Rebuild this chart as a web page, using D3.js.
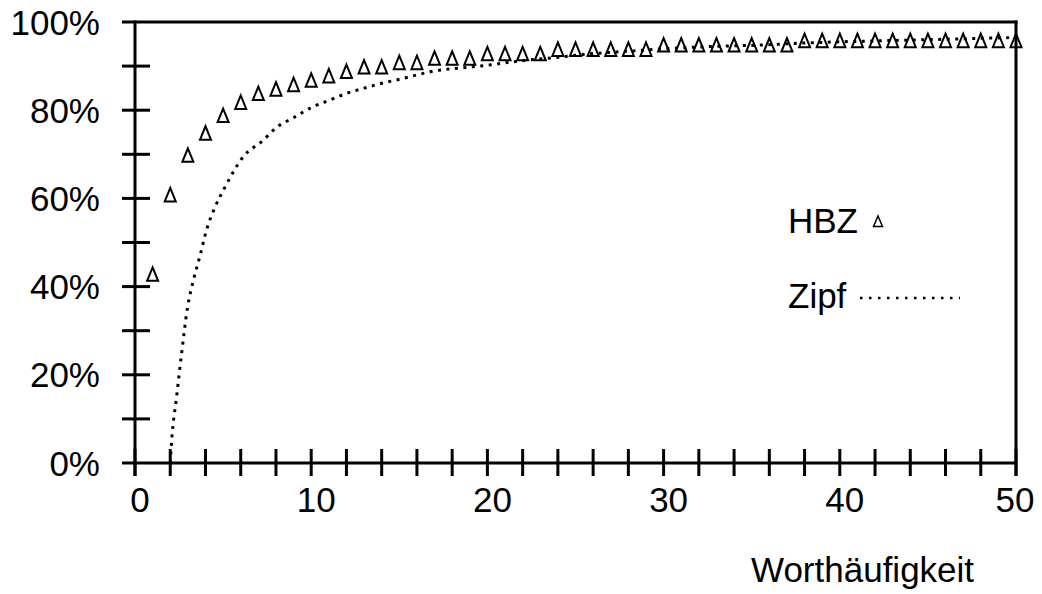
<!DOCTYPE html>
<html>
<head>
<meta charset="utf-8">
<script src="https://cdn.jsdelivr.net/npm/d3@7"></script>
<style>
  body { margin: 0; background: #fff; }
  svg { display: block; }
  text { font-family: "Liberation Sans", Arial, sans-serif; font-size: 35px; fill: #000; }
</style>
</head>
<body>
<div id="chart"></div>
<script>
// HBZ: cumulative share per word frequency rank
const hbzRank = d3.range(1, 51);
const hbzShare = [43, 61, 70, 75, 79, 82, 84, 85, 86, 87,
                  88, 89, 90, 90, 91, 91, 92, 92, 92, 93,
                  93, 93, 93, 94, 94, 94, 94, 94, 94, 95,
                  95, 95, 95, 95, 95, 95, 95, 96, 96, 96,
                  96, 96, 96, 96, 96, 96, 96, 96, 96, 96];

// Zipf curve, sampled from the dotted line
const zipfRank = [2.0, 2.08, 2.36, 2.65, 2.97, 3.35, 3.69, 4.07, 4.54, 5.1,
                  6.15, 7.28, 8, 9, 10, 11, 12, 13, 14, 15,
                  16, 17, 18.6, 20, 21.5, 22.6, 24, 25.6, 27.7, 29.6,
                  32.4, 35.7, 37.7, 40, 45, 50];
const zipfShare = [0, 5, 15, 25, 35, 42, 47, 53, 58, 62.5,
                   69.5, 73.2, 76, 78.3, 80.6, 82.2, 83.8, 85, 86.1, 87,
                   88, 88.9, 89.6, 90.2, 91, 91.5, 92, 92.7, 93.3, 93.8,
                   94.4, 94.8, 95.2, 95.5, 96, 96.5];

const yTicks = d3.range(0, 101, 10);
const yLabels = [0, 20, 40, 60, 80, 100];
const xTicks = d3.range(0, 51, 2);
const xLabels = [0, 10, 20, 30, 40, 50];

const width = 1042, height = 594;
const x = d3.scaleLinear().domain([0, 50]).range([135, 1016]);
const y = d3.scaleLinear().domain([0, 100]).range([463, 22]);

const svg = d3.select("#chart").append("svg")
    .attr("width", width)
    .attr("height", height);

const axes = svg.append("g")
    .attr("stroke", "#000")
    .attr("stroke-width", 3)
    .attr("fill", "none");

// y ticks (both sides of the left axis)
axes.selectAll(".ytick")
    .data(yTicks)
    .join("line")
    .attr("x1", x(0) - 13)
    .attr("x2", d => d === 100 ? x(50) + 1.5 : (d === 0 ? x(50) : x(0) + 15))
    .attr("y1", d => y(d))
    .attr("y2", d => y(d));

// x ticks
axes.selectAll(".xtick")
    .data(xTicks)
    .join("line")
    .attr("x1", d => x(d))
    .attr("x2", d => x(d))
    .attr("y1", y(0) - 14)
    .attr("y2", y(0) + 13);

// left and right frame lines
axes.append("line")
    .attr("x1", x(0)).attr("x2", x(0))
    .attr("y1", y(100) - 1.5).attr("y2", y(0) + 13);
axes.append("line")
    .attr("x1", x(50)).attr("x2", x(50))
    .attr("y1", y(100) - 1.5).attr("y2", y(0) + 13);

// tick labels
svg.selectAll(".ylabel")
    .data(yLabels)
    .join("text")
    .attr("x", 100)
    .attr("y", d => y(d) + 12.6)
    .attr("text-anchor", "end")
    .text(d => d + "%");

svg.selectAll(".xlabel")
    .data(xLabels)
    .join("text")
    .attr("x", d => x(d) + (d === 50 ? -1 : 5))
    .attr("y", 512)
    .attr("text-anchor", "middle")
    .text(d => d);

svg.append("text")
    .attr("x", 751)
    .attr("y", 582)
    .text("Worthäufigkeit");

// Zipf dotted curve
const zipf = zipfRank.map((r, i) => ({ r, v: zipfShare[i] }));
const line = d3.line()
    .x(d => x(d.r))
    .y(d => y(d.v))
    .curve(d3.curveMonotoneX);

svg.append("path")
    .datum(zipf)
    .attr("fill", "none")
    .attr("stroke", "#000")
    .attr("stroke-width", 3)
    .attr("stroke-dasharray", "3 5.5")
    .attr("d", line);

// HBZ triangles
const tri = "M0,-6L5.5,7.5L-5.5,7.5Z";
svg.selectAll(".hbz")
    .data(hbzRank.map((r, i) => ({ r, v: hbzShare[i] })))
    .join("path")
    .attr("d", tri)
    .attr("transform", d => `translate(${x(d.r)},${y(d.v)})`)
    .attr("fill", "none")
    .attr("stroke", "#000")
    .attr("stroke-width", 2);

// legend
svg.append("text").attr("x", 788).attr("y", 233).text("HBZ");
svg.append("path")
    .attr("d", "M0,-5L4.5,5.5L-4.5,5.5Z")
    .attr("transform", "translate(878,221)")
    .attr("fill", "none")
    .attr("stroke", "#000")
    .attr("stroke-width", 1.5);

svg.append("text").attr("x", 788).attr("y", 308).text("Zipf");
svg.append("line")
    .attr("x1", 860).attr("x2", 960)
    .attr("y1", 298).attr("y2", 298)
    .attr("stroke", "#000")
    .attr("stroke-width", 2.5)
    .attr("stroke-dasharray", "2.5 6.5");
</script>
</body>
</html>
